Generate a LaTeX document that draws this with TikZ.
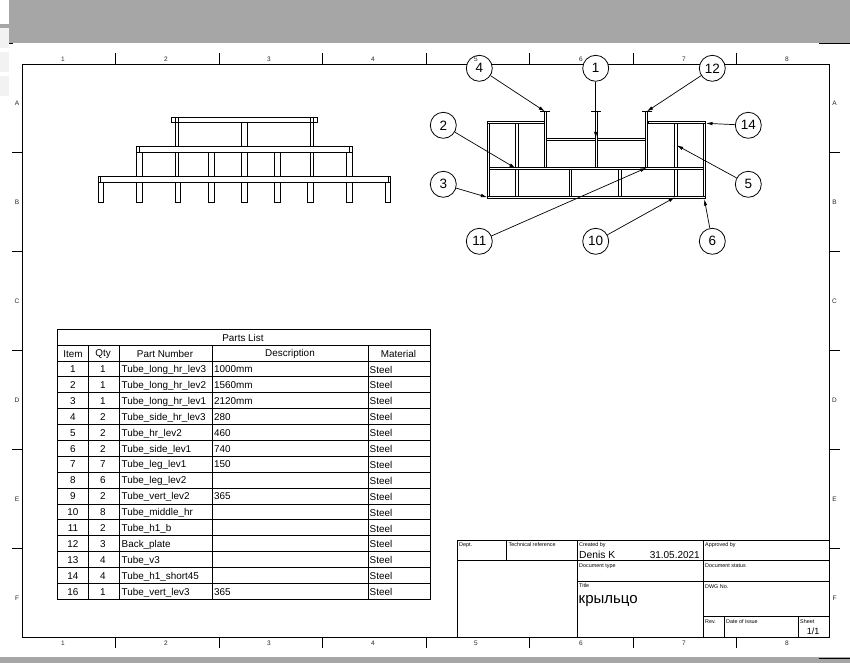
\documentclass[tikz,border=0pt]{standalone}
\usepackage{fontspec}
\setmainfont{Liberation Sans}
\usetikzlibrary{arrows.meta}
\definecolor{bandgray}{HTML}{A6A6A6}
\definecolor{stripgray}{HTML}{F2F2F2}
\newcommand{\fs}[1]{\fontsize{#1}{#1}\selectfont}
\tikzset{
    frameline/.style={line width=0.9pt, black},
    gridline/.style={line width=0.9pt, black},
    tubeline/.style={line width=0.8pt, black},
    balloon/.style={circle, draw, line width=0.8pt, fill=white, minimum size=26pt, inner sep=0pt, font=\fs{13.5}},
    leader/.style={line width=0.7pt, -{Latex[length=6.5pt,width=3.5pt]}},
    cell/.style={inner sep=0pt, text height=7.2pt, text depth=0pt, font=\fs{9.9}},
    tag/.style={inner sep=0pt, anchor=base west, font=\fs{5.4}},
    zone/.style={inner sep=0pt, font=\fs{6.5}, text=black!85}
}
\begin{document}
\begin{tikzpicture}[x=1pt, y=-1pt]
    \useasboundingbox (0,0) rectangle (850,663);

    % screenshot bands
    \fill [bandgray] (9,0) rectangle (850,43);
    \fill [bandgray] (0,24) rectangle (9,28);
    \fill [bandgray] (0,657) rectangle (850,663);
    \foreach \ya in {28,52,76} {
        \fill [stripgray] (0,\ya) rectangle (9,\ya+20);
    }
    \draw [line width=0.8pt] (9,43) -- (13,43);
    \draw [line width=0.8pt] (819,43) -- (850,43);
    \draw [line width=0.8pt] (819,658) -- (850,658);

    % sheet frame
    \draw [frameline] (22.5,64.5) rectangle (829.5,637);
    \foreach \xa in {115.5,219,322,426,529.5,633.5,736.5} {
        \draw [frameline] (\xa,53) -- (\xa,64.5);
        \draw [frameline] (\xa,637) -- (\xa,648);
    }
    \foreach \ya in {152,251,350,449,548} {
        \draw [frameline] (12,\ya) -- (22.5,\ya);
        \draw [frameline] (829.5,\ya) -- (840,\ya);
    }

    % front view
    \foreach \xa/\xb in {171.5/317.5,175.5/178.5,310.5/313.5} {
        \draw [tubeline] (\xa,117) rectangle (\xb,122.5);
    }
    \foreach \xa/\xb in {175.5/178.5,241/247,310.5/313.5} {
        \draw [tubeline] (\xa,122.5) rectangle (\xb,146);
    }
    \foreach \xa/\xb in {136.5/352,136.5/139.5,349.5/352} {
        \draw [tubeline] (\xa,146) rectangle (\xb,152.5);
    }
    \foreach \xa/\xb in {136.5/142,175.5/178.5,208.5/214,241/247,274.5/280,310.5/313.5,346.5/352} {
        \draw [tubeline] (\xa,152.5) rectangle (\xb,176.5);
    }
    \foreach \xa/\xb in {98.5/390,98.5/100.5,388/390} {
        \draw [tubeline] (\xa,176.5) rectangle (\xb,182.5);
    }
    \foreach \xa/\xb in {98.5/103.5,136.5/142,175.5/180.5,208.5/214,241/247,274.5/280,307.5/313,346.5/352,385.5/390} {
        \draw [tubeline] (\xa,182.5) rectangle (\xb,202.5);
    }

    % top view
    \foreach \xa/\ya/\xb/\yb in {
        487/121/489.5/198.5, 515.7/121/518/198.5, 703.3/121/705.5/198.5, 674.3/121/677/198.5,
        487/121/545/123.5, 648/121/705.5/123.5, 546.5/138.3/645/140.8,
        489.5/167.3/703.3/169.8, 487/196/705.5/198.5,
        544.3/111.5/546.5/167.3, 595.2/111.5/597.7/167.3, 645/111.5/647.5/167.3,
        569.3/169.8/571.7/196, 618.7/169.8/621/196} {
        \draw [tubeline, fill=white] (\xa,\ya) rectangle (\xb,\yb);
    }
    \foreach \xa/\xb in {540/550,591/601,642/652} {
        \draw [tubeline] (\xa,111.5) -- (\xb,111.5);
    }

    % balloons
    \node [balloon] (b4) at (479.3,68.3) {4};
    \node [balloon] (b1) at (595.7,68.3) {1};
    \node [balloon] (b12) at (712.3,68.3) {12};
    \node [balloon] (b2) at (443.3,125.3) {2};
    \node [balloon] (b14) at (748.3,125.3) {14};
    \node [balloon] (b3) at (443.3,184.3) {3};
    \node [balloon] (b5) at (748.3,184.3) {5};
    \node [balloon] (b11) at (479.3,241.3) {11};
    \node [balloon] (b10) at (595.7,241.3) {10};
    \node [balloon] (b6) at (712.3,241.3) {6};

    \coordinate (t4) at (545,111.5);
    \coordinate (t1) at (595.7,138.3);
    \coordinate (t12) at (646.7,111.5);
    \coordinate (t2) at (515.7,168.3);
    \coordinate (t14) at (706,123.3);
    \coordinate (t3) at (487.3,197.3);
    \coordinate (t5) at (676.7,145.3);
    \coordinate (t11) at (646.7,167.7);
    \coordinate (t10) at (675,197.3);
    \coordinate (t6) at (704.3,199);

    \foreach \tagno in {4,1,12,2,14,3,5,11,10,6} {
        \draw [leader] (b\tagno) -- (t\tagno);
    }

    % zone labels
    \foreach \zonetext/\xa in {1/63,2/166,3/269,4/373,5/476,6/581,7/684,8/787} {
        \node [zone] (ztop\zonetext) at (\xa,59) {\zonetext};
        \node [zone] (zbot\zonetext) at (\xa,643) {\zonetext};
    }
    \foreach \zonetext/\ya in {A/103,B/202,C/301,D/400,E/499,F/598} {
        \node [zone] (zleft\zonetext) at (17,\ya) {\zonetext};
        \node [zone] (zright\zonetext) at (834.5,\ya) {\zonetext};
    }

    % parts list
    \draw [gridline] (57.3,329) rectangle (430,599.3);
    \draw [gridline] (57.3,345.7) -- (430,345.7);
    \foreach \rowno in {0,...,14} {
        \draw [gridline] (57.3,361+\rowno*15.89) -- (430,361+\rowno*15.89);
    }
    \foreach \xa in {88.3,119,212.3,368.3} {
        \draw [gridline] (\xa,345.7) -- (\xa,599.3);
    }
    \node [cell] (listtitle) at (243,338) {Parts List};
    \node [cell] (headitem) at (73,353.5) {Item};
    \node [cell] (headqty) at (103,353) {Qty};
    \node [cell] (headpart) at (165,353.5) {Part Number};
    \node [cell] (headdesc) at (290,353) {Description};
    \node [cell] (headmat) at (398.5,353.5) {Material};
    \foreach \itemno/\qtyno/\partname/\desctext [count=\rowno from 0] in {
        1/1/Tube\_long\_hr\_lev3/1000mm,
        2/1/Tube\_long\_hr\_lev2/1560mm,
        3/1/Tube\_long\_hr\_lev1/2120mm,
        4/2/Tube\_side\_hr\_lev3/280,
        5/2/Tube\_hr\_lev2/460,
        6/2/Tube\_side\_lev1/740,
        7/7/Tube\_leg\_lev1/150,
        8/6/Tube\_leg\_lev2/,
        9/2/Tube\_vert\_lev2/365,
        10/8/Tube\_middle\_hr/,
        11/2/Tube\_h1\_b/,
        12/3/Back\_plate/,
        13/4/Tube\_v3/,
        14/4/Tube\_h1\_short45/,
        16/1/Tube\_vert\_lev3/365} {
        \node [cell] (item\rowno) at (73,369+\rowno*15.89) {\itemno};
        \node [cell] (qty\rowno) at (103,369+\rowno*15.89) {\qtyno};
        \node [cell, anchor=west] (part\rowno) at (121.5,369+\rowno*15.89) {\partname};
        \node [cell, anchor=west] (desc\rowno) at (214,369+\rowno*15.89) {\desctext};
        \node [cell, anchor=west] (mat\rowno) at (369.5,369.5+\rowno*15.89) {Steel};
    }

    % title block
    \draw [gridline] (457.3,540) rectangle (829.5,637);
    \draw [gridline] (457.3,560.7) -- (829.5,560.7);
    \draw [gridline] (577.3,581.3) -- (829.5,581.3);
    \draw [gridline] (703.3,616) -- (829.5,616);
    \draw [gridline] (506.7,540) -- (506.7,560.7);
    \draw [gridline] (577.3,540) -- (577.3,637);
    \draw [gridline] (703.3,540) -- (703.3,637);
    \draw [gridline] (724.3,616) -- (724.3,637);
    \draw [gridline] (798.3,616) -- (798.3,637);

    \node [tag] (dept) at (459,546.3) {Dept.};
    \node [tag] (techref) at (508.5,546.3) {Technical reference};
    \node [tag] (created) at (579,546.3) {Created by};
    \node [tag] (approved) at (705,546.3) {Approved by};
    \node [tag] (doctype) at (579,567) {Document type};
    \node [tag] (docstatus) at (705,567) {Document status};
    \node [tag] (titletag) at (579,587.5) {Title};
    \node [tag] (dwgno) at (705,588) {DWG No.};
    \node [tag] (rev) at (705,623) {Rev.};
    \node [tag] (issue) at (726,623) {Date of issue};
    \node [tag] (sheet) at (800,623) {Sheet};
    \node [inner sep=0pt, anchor=base west, font=\fs{10.3}] (author) at (579,558.5) {Denis K};
    \node [inner sep=0pt, anchor=base east, font=\fs{10}] (issued) at (700,558.5) {31.05.2021};
    \node [inner sep=0pt, anchor=base west, font=\fs{15}] (titletext) at (578.5,603.5) {крыльцо};
    \node [inner sep=0pt, font=\fs{9}] (sheetno) at (813,631.5) {1/1};
\end{tikzpicture}
\end{document}
